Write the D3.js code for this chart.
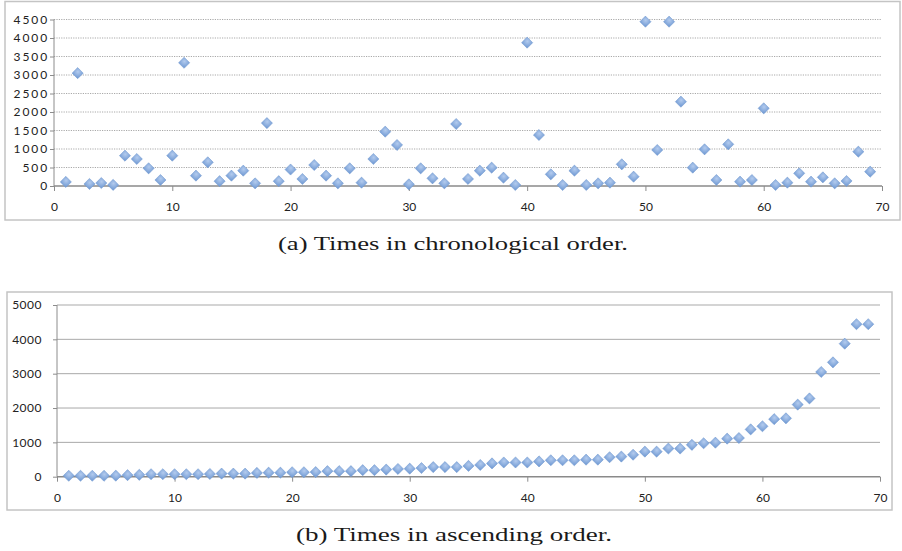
<!DOCTYPE html>
<html>
<head>
<meta charset="utf-8">
<script src="https://cdn.jsdelivr.net/npm/d3@7"></script>
<style>
	body { margin: 0; background: #fff; }
	svg text { font-family: Lato, "Open Sans", sans-serif; }
	.caption { font-family: "Liberation Serif", "DejaVu Serif", serif !important; fill: #1a1a1a; }
</style>
</head>
<body>
<svg id="chart" width="902" height="551"></svg>
<script>
// times, chronological (run number 1..69)
let times = [
	110, 3050, 55, 80, 30, 820, 730, 478, 162, 820,
	3330, 280, 640, 130, 280, 414, 72, 1700, 130, 445,
	190, 567, 280, 72, 478, 90, 730, 1468, 1108, 45,
	478, 207, 72, 1676, 190, 414, 496, 225, 27, 3874,
	1378, 315, 27, 414, 27, 72, 90, 586, 252, 4441,
	973, 4441, 2279, 496, 991, 162, 1126, 117, 162, 2099,
	27, 90, 342, 117, 234, 72, 135, 928, 387
];
let xTicks		= [0, 10, 20, 30, 40, 50, 60, 70];
let yTicksTop	= [0, 500, 1000, 1500, 2000, 2500, 3000, 3500, 4000, 4500];
let yTicksBot	= [0, 1000, 2000, 3000, 4000, 5000];
let captions	= ["(a) Times in chronological order.", "(b) Times in ascending order."];

let svg = d3.select("#chart");

// marker gradient
let grad = svg.append("defs").append("radialGradient")
	.attr("id", "dia").attr("cx", "40%").attr("cy", "35%").attr("r", "75%");
grad.append("stop").attr("offset", "0%").attr("stop-color", "#b3cbee");
grad.append("stop").attr("offset", "100%").attr("stop-color", "#759dd5");

function panel(cfg) {
	let g = svg.append("g");

	// frame
	g.append("rect")
		.attr("x", cfg.frame[0]).attr("y", cfg.frame[1])
		.attr("width", cfg.frame[2]).attr("height", cfg.frame[3])
		.attr("fill", "none").attr("stroke", "#c4c4c4").attr("stroke-width", 1.5);

	let x = d3.scaleLinear().domain([0, 70]).range([cfg.left, cfg.right]);
	let y = d3.scaleLinear().domain([0, cfg.yMax]).range([cfg.bottom, cfg.top]);

	// gridlines
	g.append("g").selectAll("line")
		.data(cfg.yTicks.slice(1))
		.enter().append("line")
			.attr("x1", cfg.left).attr("x2", cfg.right)
			.attr("y1", (o) => (y(o))).attr("y2", (o) => (y(o)))
			.attr("stroke", "#a9a9a9")
			.attr("stroke-width", 1)
			.attr("stroke-dasharray", cfg.dotted ? "1.2,1.2" : null);

	// y axis
	let ya = g.append("g")
		.attr("transform", "translate(" + cfg.left + ",0)")
		.call(d3.axisLeft(y).tickValues(cfg.yTicks).tickSize(4).tickPadding(cfg.yPad).tickFormat(d3.format("d")));
	ya.select(".domain").attr("stroke", "#8c8c8c").attr("d", "M0," + cfg.bottom + "V" + cfg.top);
	ya.selectAll(".tick line").attr("stroke", "#8c8c8c");
	ya.selectAll(".tick text")
		.attr("font-size", 12).attr("fill", "#222")
		.attr("letter-spacing", cfg.yLetter);

	// x axis
	let xa = g.append("g")
		.attr("transform", "translate(0," + cfg.bottom + ")")
		.call(d3.axisBottom(x).tickValues(xTicks).tickSize(5).tickPadding(cfg.xPad));
	xa.select(".domain").attr("stroke", "#8a8a8a").attr("stroke-width", 1.6).attr("d", "M" + cfg.left + ",0H" + cfg.right);
	xa.selectAll(".tick line").attr("stroke", "#8c8c8c");
	xa.selectAll(".tick text").attr("font-size", 12).attr("fill", "#222");

	// points
	g.append("g").selectAll("path")
		.data(cfg.data)
		.enter().append("path")
			.attr("d", d3.symbol(d3.symbolSquare, 62))
			.attr("transform", (o, i) => ("translate(" + x(i + 1) + "," + y(o) + ") rotate(45)"))
			.attr("fill", "url(#dia)")
			.attr("stroke", "#7098d0")
			.attr("stroke-width", 0.5);

	// caption
	svg.append("text")
		.attr("class", "caption")
		.attr("x", cfg.cap[0]).attr("y", cfg.cap[1])
		.attr("text-anchor", "middle")
		.attr("font-size", 18.5)
		.attr("textLength", cfg.cap[2]).attr("lengthAdjust", "spacingAndGlyphs")
		.text(cfg.caption);
}

panel({
	data: times, yMax: 4500, yTicks: yTicksTop, dotted: true,
	frame: [5, 1.5, 895, 218.5],
	left: 54, right: 882, top: 19.5, bottom: 186,
	yPad: 1, yLetter: 1.9, xPad: 11,
	cap: [453, 250, 350], caption: captions[0]
});

panel({
	data: d3.sort(times), yMax: 5000, yTicks: yTicksBot, dotted: false,
	frame: [7, 292, 885, 218],
	left: 57, right: 880, top: 305, bottom: 476.7,
	yPad: 11, yLetter: 0.5, xPad: 12,
	cap: [454, 541, 316], caption: captions[1]
});
</script>
</body>
</html>
